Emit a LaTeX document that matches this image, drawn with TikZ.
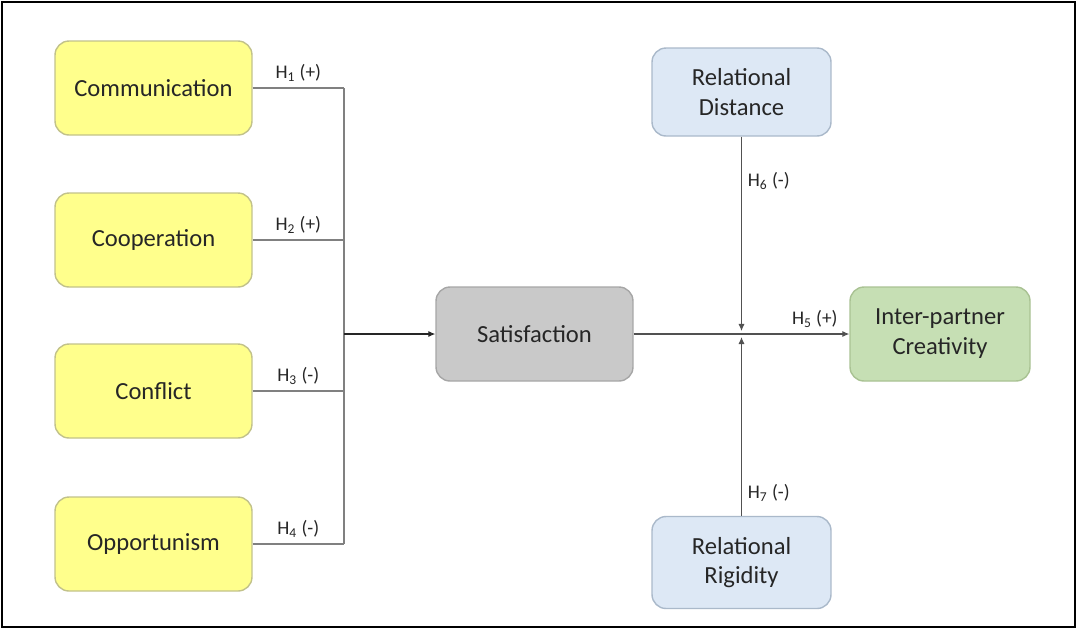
\documentclass[tikz,border=0pt]{standalone}
\usepackage{fontspec}
\setmainfont{Carlito}
\usetikzlibrary{arrows.meta}
\definecolor{txt}{HTML}{262626}
\definecolor{yfill}{HTML}{FFFF8C}
\definecolor{ydraw}{HTML}{C2C28A}
\definecolor{gfill}{HTML}{C9C9C9}
\definecolor{gdraw}{HTML}{A6A6A6}
\definecolor{bfill}{HTML}{DDE8F5}
\definecolor{bdraw}{HTML}{AAB9CA}
\definecolor{vfill}{HTML}{C6DFB4}
\definecolor{vdraw}{HTML}{A9C293}
\definecolor{ln}{HTML}{808080}
\tikzset{
  box/.style={rounded corners=0.28cm, align=center, text=txt,
    font=\fontsize{14}{17}\selectfont, line width=0.8pt,
    minimum width=3.94cm, minimum height=1.88cm},
  ybox/.style={box, fill=yfill, draw=ydraw},
  lab/.style={text=txt, font=\fontsize{11}{13}\selectfont},
  arr/.style={-{Latex[length=4pt,width=3.5pt]}, line width=0.6pt}
}

\begin{document}
\begin{tikzpicture}[x=0.02cm,y=-0.02cm]
         \useasboundingbox (0,0) rectangle (1077,630);
         \draw [line width=1.2pt] (2,2) rectangle (1075,627);
         \node [ybox] (Cm) at (153.5, 88) {Communication};
         \node [ybox] (Cp) at (153.5, 240) {Cooperation};
         \node [ybox] (Cf) at (153.5, 391) {Conflict};
         \node [ybox] (Op) at (153.5, 544) {Opportunism};
         \node [box, fill=gfill, draw=gdraw] (Sat) at (534.5, 334) {Satisfaction};
         \node [box, fill=bfill, draw=bdraw, minimum width=3.58cm, minimum height=1.76cm] (RD) at (741.5, 92) {Relational\\Distance};
         \node [box, fill=bfill, draw=bdraw, minimum width=3.58cm, minimum height=1.84cm] (RR) at (741.5, 562.5) {Relational\\Rigidity};
         \node [box, fill=vfill, draw=vdraw, minimum width=3.6cm] (IC) at (940, 334) {Inter-partner\\Creativity};
         \coordinate (J) at (344, 334);
         \coordinate (M) at (741.5, 334);
         \draw [ln, line width=0.8pt] (Cm.east) -- node [lab, above] {H\textsubscript{1} (+)} (Cm.east -| J);
         \draw [ln, line width=0.8pt] (Cp.east) -- node [lab, above] {H\textsubscript{2} (+)} (Cp.east -| J);
         \draw [ln, line width=0.8pt] (Cf.east) -- node [lab, above] {H\textsubscript{3} (-)} (Cf.east -| J);
         \draw [ln, line width=0.8pt] (Op.east) -- node [lab, above] {H\textsubscript{4} (-)} (Op.east -| J);
         \draw [ln, line width=0.8pt] (Cm.east -| J) -- (Op.east -| J);
         \draw [arr, txt] (J) -- (Sat);
         \draw [arr, txt!80] (Sat) -- node [lab, above, pos=0.84] {H\textsubscript{5} (+)} (IC);
         \draw [arr, txt!80] (RD) -- node [lab, right, pos=0.23] {H\textsubscript{6} (-)} ([yshift=0.06cm]M);
         \draw [arr, txt!80] (RR) -- node [lab, right, pos=0.13] {H\textsubscript{7} (-)} ([yshift=-0.06cm]M);
\end{tikzpicture}
\end{document}
